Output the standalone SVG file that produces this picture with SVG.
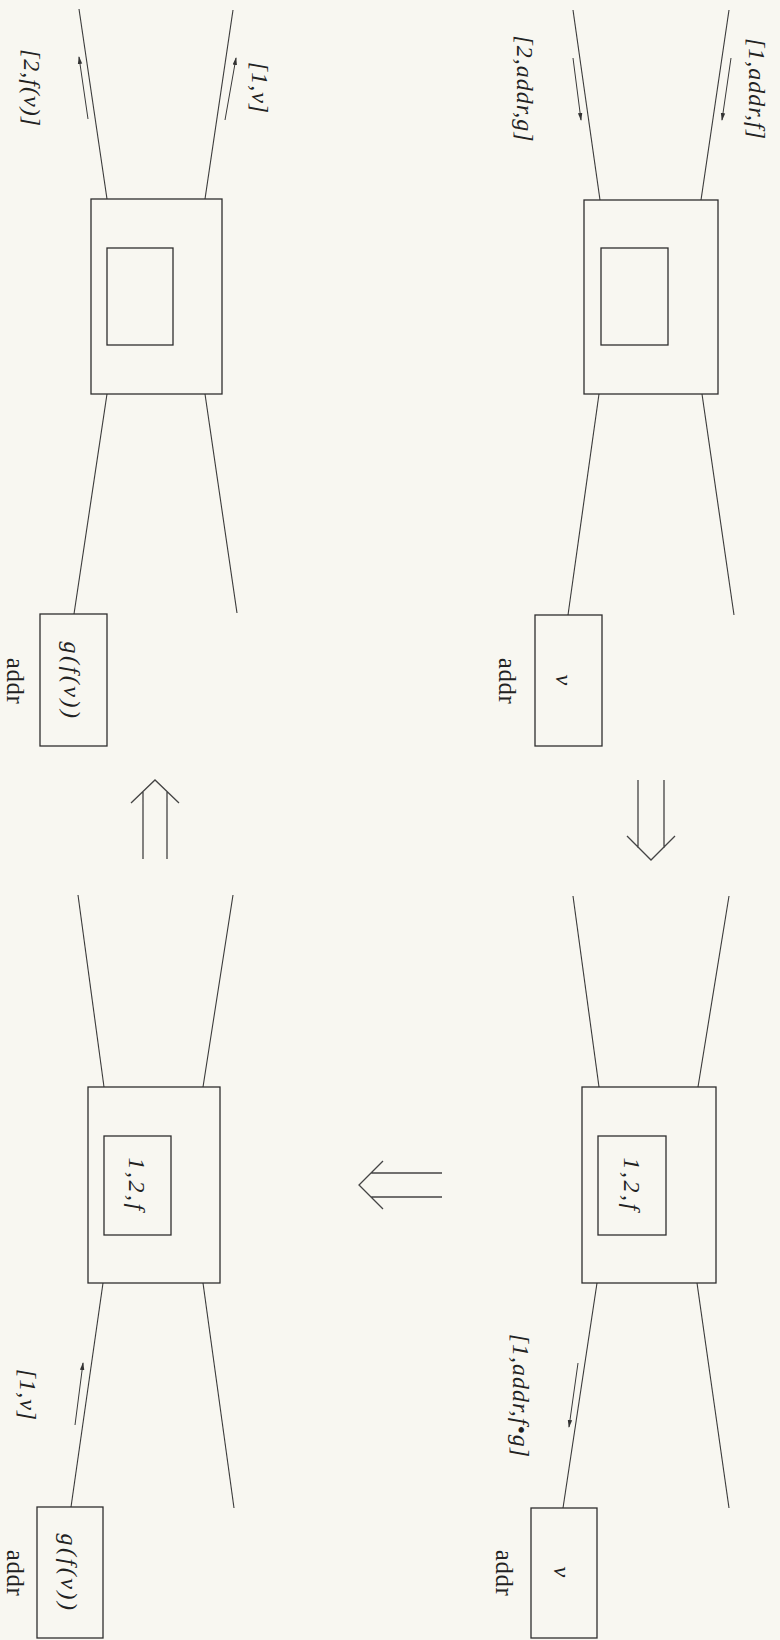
<svg xmlns="http://www.w3.org/2000/svg" width="780" height="1640" viewBox="0 0 780 1640">
<style>
.bx{fill:none;stroke:#2e2e2e;stroke-width:1.3}
.ln{fill:none;stroke:#3a3a3a;stroke-width:1.1}
.ar{fill:none;stroke:#3a3a3a;stroke-width:1}
.da{fill:none;stroke:#444;stroke-width:1.3}
.m{font-family:"Liberation Serif",serif;font-style:italic;font-size:24px;letter-spacing:1px;fill:#222;text-anchor:middle;dominant-baseline:central}
.b{font-family:"Liberation Serif",serif;font-style:italic;font-size:24px;letter-spacing:2.5px;fill:#222;text-anchor:middle;dominant-baseline:central}
.a{font-family:"Liberation Serif",serif;font-size:25px;letter-spacing:0.5px;fill:#222;text-anchor:middle;dominant-baseline:central}
</style>
<defs>
<marker id="h" markerWidth="8" markerHeight="6" refX="7" refY="3" orient="auto" markerUnits="userSpaceOnUse">
<path d="M0,0.8 L8,3 L0,5.2 z" fill="#333"/>
</marker>
</defs>
<rect width="780" height="1640" fill="#f8f7f1"/>

<g id="connectors">
<line class="ln" x1="107" y1="199" x2="79" y2="9"/>
<line class="ln" x1="205" y1="199" x2="233" y2="10"/>
<line class="ln" x1="107" y1="394" x2="74" y2="614"/>
<line class="ln" x1="205" y1="394" x2="237" y2="613"/>
<line class="ln" x1="600" y1="200" x2="573" y2="10"/>
<line class="ln" x1="701" y1="200" x2="729" y2="10"/>
<line class="ln" x1="599" y1="394" x2="568" y2="615"/>
<line class="ln" x1="702" y1="394" x2="734" y2="615"/>
<line class="ln" x1="104" y1="1087" x2="78" y2="895"/>
<line class="ln" x1="203" y1="1087" x2="233" y2="895"/>
<line class="ln" x1="103" y1="1283" x2="71" y2="1507"/>
<line class="ln" x1="203" y1="1283" x2="234" y2="1508"/>
<line class="ln" x1="599" y1="1087" x2="573" y2="896"/>
<line class="ln" x1="698" y1="1087" x2="729" y2="896"/>
<line class="ln" x1="597" y1="1283" x2="563" y2="1508"/>
<line class="ln" x1="697" y1="1283" x2="729" y2="1508"/>
<line class="ar" x1="88" y1="119" x2="79" y2="57" marker-end="url(#h)"/>
<line class="ar" x1="225" y1="120" x2="236" y2="58" marker-end="url(#h)"/>
<line class="ar" x1="573" y1="58" x2="581" y2="120" marker-end="url(#h)"/>
<line class="ar" x1="731" y1="58" x2="722" y2="120" marker-end="url(#h)"/>
<line class="ar" x1="75" y1="1425" x2="83" y2="1363" marker-end="url(#h)"/>
<line class="ar" x1="578" y1="1363" x2="569" y2="1427" marker-end="url(#h)"/>
<text class="m" transform="translate(32,88) rotate(90)">[2,f(v)]</text>
<text class="m" transform="translate(260,88) rotate(90)">[1,v]</text>
<text class="m" transform="translate(525,89) rotate(90)">[2,addr,g]</text>
<text class="m" transform="translate(757,89) rotate(90)">[1,addr,f]</text>
<text class="m" transform="translate(28,1395) rotate(90)">[1,v]</text>
<text class="m" transform="translate(521,1396) rotate(90)">[1,addr,f•g]</text>
</g>

<g id="transitions">
<path class="da" d="M143,859 V791 M167,859 V791 M131,803 L155,780 L179,803"/>
<path class="da" d="M638,780 V848 M664,780 V848 M627,836 L651,860 L675,836"/>
<path class="da" d="M442,1173 H371 M442,1197 H371 M383,1161 L359,1185 L383,1209"/>
</g>

<g id="nodeA">
<rect class="bx" x="91" y="199" width="131" height="195"/>
<rect class="bx" x="107" y="248" width="66" height="97"/>
</g>
<g id="memA">
<rect class="bx" x="40" y="614" width="67" height="132"/>
<text class="b" transform="translate(72,681) rotate(90)">g(f(v))</text>
<text class="a" transform="translate(15,681) rotate(90)">addr</text>
</g>

<g id="nodeB">
<rect class="bx" x="584" y="200" width="134" height="194"/>
<rect class="bx" x="601" y="248" width="67" height="97"/>
</g>
<g id="memB">
<rect class="bx" x="535" y="615" width="67" height="131"/>
<text class="b" transform="translate(564,681) rotate(90)">v</text>
<text class="a" transform="translate(507,681) rotate(90)">addr</text>
</g>

<g id="nodeC">
<rect class="bx" x="88" y="1087" width="132" height="196"/>
<rect class="bx" x="104" y="1136" width="67" height="99"/>
<text class="b" transform="translate(137,1185) rotate(90)">1,2,f</text>
</g>
<g id="memC">
<rect class="bx" x="37" y="1507" width="66" height="131"/>
<text class="b" transform="translate(69,1573) rotate(90)">g(f(v))</text>
<text class="a" transform="translate(15,1573) rotate(90)">addr</text>
</g>

<g id="nodeD">
<rect class="bx" x="582" y="1087" width="134" height="196"/>
<rect class="bx" x="598" y="1136" width="68" height="99"/>
<text class="b" transform="translate(632,1185) rotate(90)">1,2,f</text>
</g>
<g id="memD">
<rect class="bx" x="531" y="1508" width="66" height="130"/>
<text class="b" transform="translate(562,1573) rotate(90)">v</text>
<text class="a" transform="translate(504,1573) rotate(90)">addr</text>
</g>
</svg>
